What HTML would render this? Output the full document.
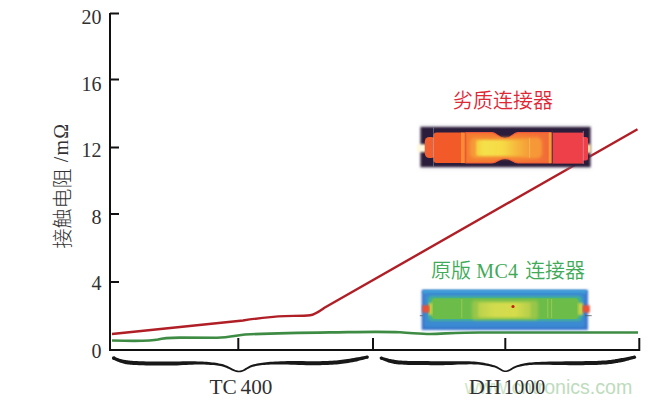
<!DOCTYPE html>
<html>
<head>
<meta charset="utf-8">
<style>
html,body{margin:0;padding:0;background:#fff;}
body{width:650px;height:402px;overflow:hidden;position:relative;}
svg{position:absolute;left:0;top:0;}
.num{font-family:"Liberation Serif",serif;font-size:20px;fill:#303030;}
</style>
</head>
<body>
<svg width="650" height="402" viewBox="0 0 650 402">
<defs>
  <linearGradient id="wm" gradientUnits="userSpaceOnUse" x1="466" y1="0" x2="630" y2="0">
    <stop offset="0" stop-color="#cfe6cb"/>
    <stop offset="0.45" stop-color="#c8e2c6"/>
    <stop offset="0.5" stop-color="#bedcbe"/>
    <stop offset="1" stop-color="#bcdbbc"/>
  </linearGradient>
  <filter id="soft" x="-5%" y="-10%" width="110%" height="120%"><feGaussianBlur stdDeviation="0.6"/></filter>
  <filter id="blur1" x="-5%" y="-20%" width="110%" height="140%"><feGaussianBlur stdDeviation="0.8"/></filter>
  <filter id="blur2" x="-5%" y="-20%" width="110%" height="140%"><feGaussianBlur stdDeviation="1.4"/></filter>
  <linearGradient id="midbody" x1="0" y1="0" x2="1" y2="0">
    <stop offset="0" stop-color="#f47c30"/>
    <stop offset="0.55" stop-color="#f47a32"/>
    <stop offset="1" stop-color="#f26a38"/>
  </linearGradient>
  <linearGradient id="hotlin" x1="0" y1="0" x2="1" y2="0">
    <stop offset="0" stop-color="#f6cc3c"/>
    <stop offset="0.15" stop-color="#f4e24a"/>
    <stop offset="0.5" stop-color="#f6da44"/>
    <stop offset="0.78" stop-color="#f6b43c"/>
    <stop offset="1" stop-color="#f49a36"/>
  </linearGradient>
  <linearGradient id="glin" x1="0" y1="0" x2="1" y2="0">
    <stop offset="0" stop-color="#b8d24c"/>
    <stop offset="0.3" stop-color="#d2dc4e"/>
    <stop offset="0.7" stop-color="#d6dd4c"/>
    <stop offset="1" stop-color="#b2ce4c"/>
  </linearGradient>
</defs>

<!-- axes -->
<g stroke="#111" stroke-width="2" fill="none">
  <line x1="110" y1="13" x2="110" y2="351"/>
  <line x1="109" y1="350" x2="640" y2="350"/>
  <line x1="110" y1="13.5" x2="119" y2="13.5"/>
  <line x1="110" y1="79.5" x2="119" y2="79.5"/>
  <line x1="110" y1="147.5" x2="119" y2="147.5"/>
  <line x1="110" y1="214" x2="119" y2="214"/>
  <line x1="110" y1="282" x2="119" y2="282"/>
  <line x1="238.3" y1="338" x2="238.3" y2="350"/>
  <line x1="373" y1="338" x2="373" y2="350"/>
  <line x1="505.3" y1="338" x2="505.3" y2="350"/>
  <line x1="639.3" y1="338" x2="639.3" y2="351"/>
</g>

<!-- y tick labels -->
<g class="num" text-anchor="end">
  <text x="101.5" y="24">20</text>
  <text x="101.5" y="90.5">16</text>
  <text x="101.5" y="157">12</text>
  <text x="101.5" y="223.5">8</text>
  <text x="101.5" y="290">4</text>
  <text x="101.5" y="357.5">0</text>
</g>

<!-- y axis label -->
<text transform="translate(69.5,248.5) rotate(-90)" fill="#333"><tspan font-size="20" font-weight="300" font-family="'Liberation Sans','Noto Sans CJK SC',sans-serif">接触电阻</tspan><tspan font-size="20" dy="-2" letter-spacing="1.2" font-family="'Liberation Serif',serif"> /mΩ</tspan></text>

<!-- red curve -->
<path d="M112,334 L243,320.5 C258,318.2 270,316.6 285,316.1 C295,315.8 304,315.9 310,315.2 C315,314.6 319,311.5 324,308 L637.5,129.3" fill="none" stroke="#b01e26" stroke-width="2.4" stroke-linejoin="round"/>
<!-- green curve -->
<path d="M112,340.5 C130,341 150,341.5 158,339.5 C163,338 168,337.7 180,337.6 L217,337.7 C228,337.5 236,335.5 245,334.5 C270,333.4 300,332.8 330,332.4 C360,332 380,331.3 400,332.3 C415,333.2 422,334 430,334 C445,333.6 460,332.5 480,332.5 L638,332.5" fill="none" stroke="#3e8c44" stroke-width="2.6"/>

<!-- red thermal image -->
<g filter="url(#soft)">
  <rect x="420" y="125.5" width="171" height="43" fill="#b8b4bc" opacity="0.5" filter="url(#blur2)"/>
  <rect x="420.6" y="127" width="169.8" height="40" fill="#2a1c3a" filter="url(#blur1)"/>
  <rect x="417" y="144.2" width="9" height="8" fill="#fffae0" filter="url(#blur1)"/>
  <rect x="586.5" y="144.4" width="4.5" height="8.5" fill="#ffe8b0" filter="url(#blur1)"/>
  <rect x="424.8" y="137" width="11" height="21" rx="4.5" fill="#f06030"/>
  <rect x="433.5" y="132.6" width="33" height="30.5" rx="3" fill="#f25a2c"/>
  <line x1="433.5" y1="127.5" x2="433.5" y2="166.5" stroke="#a0d8f0" stroke-width="0.9" opacity="0.4"/>
  <rect x="461" y="132.6" width="4" height="30.5" fill="#f88a34"/>
  <line x1="465.3" y1="132.6" x2="465.3" y2="163" stroke="#c84828" stroke-width="0.8"/>
  <path d="M465.8,132.6 H492 C497,132.6 499,138.6 505,138.6 C511,138.6 513,132.6 518,132.6 H551 V163 H518 C513,163 511,158.4 505,158.4 C499,158.4 497,163 492,163 H465.8 Z" fill="url(#midbody)" stroke="#f0583a" stroke-width="1.2"/>
  <rect x="470" y="137.5" width="72" height="21" rx="5" fill="#f69838" filter="url(#blur2)"/>
  <rect x="476" y="140" width="54" height="16" rx="2" fill="url(#hotlin)" filter="url(#blur1)"/>
  <line x1="529.6" y1="138" x2="529.6" y2="158" stroke="#fcc060" stroke-width="1" opacity="0.7"/>
  <rect x="548.7" y="132.6" width="3.8" height="30.5" fill="#f89838"/>
  <rect x="552.3" y="132.6" width="31" height="31" fill="#ee4048"/>
  <line x1="552.2" y1="130" x2="552.2" y2="165" stroke="#402848" stroke-width="1.2" opacity="0.8"/>
  <rect x="581" y="137" width="7" height="23.6" rx="2" fill="#ee4048"/>
  <line x1="583.3" y1="131" x2="583.3" y2="164" stroke="#e0a0b8" stroke-width="0.8" opacity="0.7"/>
</g>

<!-- green thermal image -->
<g filter="url(#soft)">
  <rect x="421.7" y="289.8" width="166.2" height="40.2" fill="#3a74cc" filter="url(#blur1)"/>
  <rect x="423" y="290" width="163" height="4" fill="#3ca2d8" filter="url(#blur1)"/>
  <rect x="424" y="293" width="161" height="34.5" rx="3" fill="#3a8ad2" filter="url(#blur1)"/>
  <rect x="428" y="296" width="154" height="25" rx="4" fill="#40b098" filter="url(#blur1)"/>
  <rect x="431.4" y="298.2" width="147.4" height="20.8" rx="4" fill="#6cbc48"/>
  <rect x="472" y="300.5" width="66" height="19" rx="3" fill="#98c648" filter="url(#blur2)"/>
  <rect x="478" y="302.5" width="53" height="15" rx="2" fill="url(#glin)" filter="url(#blur1)"/>
  <line x1="461.8" y1="299" x2="461.8" y2="318" stroke="#a8d060" stroke-width="1" opacity="0.7"/>
  <line x1="547.8" y1="299" x2="547.8" y2="318" stroke="#a8d060" stroke-width="1" opacity="0.7"/>
  <line x1="551.6" y1="299" x2="551.6" y2="318" stroke="#a8d060" stroke-width="1" opacity="0.7"/>
  <rect x="578" y="303" width="5" height="12" fill="#c8d040" filter="url(#blur1)"/>
  <rect x="428.5" y="303" width="4" height="12" fill="#c8d040" filter="url(#blur1)"/>
  <rect x="422.3" y="305.3" width="7.2" height="7.2" fill="#f05030" filter="url(#blur1)"/>
  <rect x="582.7" y="305.3" width="7.1" height="7.2" fill="#f05030" filter="url(#blur1)"/>
  <line x1="419.8" y1="315.7" x2="423" y2="315.7" stroke="#555" stroke-width="0.8"/>
  <line x1="585" y1="315.7" x2="591.7" y2="315.7" stroke="#555" stroke-width="0.8"/>
  <circle cx="513" cy="306.5" r="1.6" fill="#c02010"/>
</g>

<!-- labels -->
<text x="453" y="108" font-family="'Liberation Sans','Noto Sans CJK SC',sans-serif" font-size="20" fill="#de2836" font-weight="350">劣质连接器</text>
<text x="431" y="278" font-size="20" fill="#40aa58"><tspan font-weight="350" font-family="'Liberation Sans','Noto Sans CJK SC',sans-serif">原版</tspan><tspan font-family="'Liberation Serif',serif" font-size="20" letter-spacing="0.3"> MC4 </tspan><tspan dx="1.5" font-weight="350" font-family="'Liberation Sans','Noto Sans CJK SC',sans-serif">连接器</tspan></text>

<!-- braces -->
<g fill="#181818" stroke="none">
  <path d="M112.9,359.4 L113.3,359.6 L113.7,359.8 L114.3,360.0 L114.9,360.4 L115.6,360.7 L116.3,361.0 L117.1,361.4 L117.9,361.8 L118.8,362.1 L119.7,362.5 L120.6,362.8 L121.6,363.1 L122.5,363.3 L123.3,363.6 L124.1,363.8 L125.0,364.0 L125.9,364.2 L126.9,364.3 L127.9,364.4 L129.0,364.6 L130.3,364.7 L131.6,364.8 L133.2,364.9 L134.9,365.0 L136.8,365.1 L138.9,365.2 L141.1,365.3 L143.5,365.3 L146.0,365.4 L148.6,365.4 L151.3,365.5 L154.0,365.5 L156.7,365.6 L159.5,365.6 L162.3,365.6 L165.0,365.6 L167.8,365.6 L170.7,365.5 L173.8,365.5 L176.8,365.4 L179.9,365.2 L183.1,365.1 L186.1,364.9 L189.1,364.8 L192.1,364.7 L194.9,364.6 L197.5,364.5 L200.0,364.5 L202.3,364.6 L204.4,364.6 L206.5,364.7 L208.4,364.8 L210.2,364.9 L212.0,365.0 L213.7,365.1 L215.4,365.3 L217.0,365.5 L218.6,365.7 L220.2,366.0 L221.7,366.3 L223.3,366.7 L224.8,367.2 L226.2,367.7 L227.7,368.4 L229.1,369.0 L230.5,369.7 L231.9,370.4 L233.3,371.0 L234.7,371.5 L236.1,371.9 L237.6,372.2 L239.0,372.3 L240.4,372.2 L241.7,372.0 L243.0,371.5 L244.2,371.0 L245.4,370.4 L246.5,369.7 L247.7,369.1 L248.9,368.4 L250.1,367.8 L251.4,367.2 L252.8,366.7 L254.3,366.4 L255.8,366.0 L257.5,365.8 L259.1,365.5 L260.8,365.3 L262.6,365.1 L264.4,365.0 L266.4,364.8 L268.4,364.7 L270.6,364.6 L272.9,364.5 L275.4,364.5 L278.0,364.4 L280.9,364.4 L284.1,364.5 L287.6,364.5 L291.2,364.7 L295.0,364.8 L298.8,364.9 L302.7,365.1 L306.5,365.2 L310.2,365.2 L313.7,365.2 L317.0,365.2 L320.0,365.2 L322.8,365.1 L325.4,365.0 L327.8,364.9 L330.1,364.8 L332.3,364.7 L334.4,364.5 L336.5,364.4 L338.5,364.2 L340.4,364.0 L342.3,363.8 L344.3,363.5 L346.3,363.3 L348.3,363.0 L350.4,362.6 L352.6,362.3 L354.7,361.8 L356.8,361.4 L358.8,360.8 L360.7,360.3 L362.5,359.9 L364.1,359.4 L365.6,359.0 L366.8,358.7 L367.8,358.5 L367.2,355.5 L366.1,355.7 L364.9,355.9 L363.4,356.2 L361.7,356.5 L359.9,356.9 L358.0,357.2 L356.0,357.6 L353.9,357.9 L351.8,358.3 L349.8,358.7 L347.7,359.0 L345.7,359.3 L343.8,359.6 L341.9,359.8 L340.0,360.0 L338.1,360.2 L336.1,360.4 L334.1,360.5 L332.1,360.7 L329.9,360.8 L327.6,360.9 L325.2,361.0 L322.7,361.1 L320.0,361.2 L317.0,361.2 L313.7,361.2 L310.2,361.2 L306.6,361.2 L302.8,361.1 L298.9,361.1 L295.1,361.1 L291.3,361.1 L287.6,361.1 L284.1,361.2 L280.9,361.3 L278.0,361.4 L275.3,361.5 L272.8,361.7 L270.4,361.8 L268.2,362.0 L266.2,362.2 L264.2,362.4 L262.3,362.7 L260.5,362.9 L258.8,363.2 L257.1,363.5 L255.4,363.9 L253.7,364.2 L252.1,364.7 L250.6,365.3 L249.2,366.0 L247.9,366.7 L246.7,367.4 L245.6,368.1 L244.5,368.8 L243.4,369.4 L242.4,369.9 L241.3,370.3 L240.2,370.6 L239.0,370.7 L237.8,370.6 L236.6,370.3 L235.3,369.9 L234.0,369.3 L232.7,368.7 L231.4,368.0 L230.0,367.3 L228.5,366.6 L227.1,365.8 L225.5,365.2 L223.9,364.6 L222.3,364.1 L220.6,363.7 L219.0,363.4 L217.3,363.1 L215.7,362.8 L214.0,362.6 L212.3,362.4 L210.5,362.2 L208.6,362.0 L206.6,361.8 L204.5,361.7 L202.4,361.6 L200.0,361.5 L197.5,361.4 L194.9,361.3 L192.0,361.3 L189.1,361.3 L186.0,361.3 L182.9,361.3 L179.8,361.4 L176.7,361.4 L173.7,361.5 L170.7,361.5 L167.8,361.6 L165.0,361.6 L162.3,361.6 L159.5,361.6 L156.8,361.6 L154.0,361.5 L151.3,361.5 L148.7,361.4 L146.1,361.4 L143.6,361.3 L141.3,361.3 L139.0,361.2 L137.0,361.1 L135.1,361.0 L133.4,360.9 L131.9,360.8 L130.6,360.7 L129.4,360.6 L128.4,360.5 L127.4,360.3 L126.6,360.2 L125.7,360.1 L124.9,360.0 L124.1,359.8 L123.3,359.7 L122.4,359.5 L121.6,359.3 L120.8,359.1 L119.9,358.9 L119.1,358.6 L118.3,358.3 L117.6,358.0 L116.9,357.8 L116.2,357.5 L115.6,357.2 L115.0,357.0 L114.5,356.8 L114.1,356.6Z"/>
  <path d="M380.5,359.4 L381.0,359.6 L381.6,359.9 L382.4,360.1 L383.2,360.5 L384.1,360.8 L385.1,361.2 L386.1,361.6 L387.2,362.0 L388.3,362.4 L389.4,362.7 L390.5,363.0 L391.6,363.3 L392.6,363.5 L393.6,363.7 L394.5,363.9 L395.4,364.0 L396.4,364.2 L397.3,364.3 L398.4,364.4 L399.6,364.5 L400.9,364.6 L402.4,364.6 L404.0,364.7 L405.9,364.8 L408.1,364.9 L410.5,364.9 L413.1,365.0 L415.8,365.0 L418.7,365.1 L421.7,365.1 L424.8,365.1 L427.9,365.1 L431.0,365.2 L434.1,365.2 L437.1,365.2 L440.0,365.2 L442.9,365.2 L445.9,365.1 L448.9,365.0 L451.9,364.9 L454.9,364.8 L457.9,364.6 L460.9,364.5 L463.7,364.4 L466.5,364.4 L469.1,364.3 L471.6,364.3 L473.9,364.4 L476.1,364.5 L478.1,364.6 L480.0,364.8 L481.8,365.0 L483.6,365.2 L485.2,365.5 L486.7,365.8 L488.2,366.0 L489.7,366.3 L491.1,366.7 L492.4,367.0 L493.7,367.3 L494.9,367.6 L496.0,368.0 L497.0,368.5 L498.0,369.0 L498.9,369.6 L499.7,370.1 L500.6,370.6 L501.5,371.1 L502.4,371.5 L503.4,371.8 L504.4,372.0 L505.5,372.1 L506.6,372.0 L507.7,371.8 L508.7,371.4 L509.8,371.0 L510.8,370.5 L511.8,369.9 L512.8,369.3 L513.8,368.8 L514.9,368.2 L516.0,367.8 L517.1,367.3 L518.3,367.0 L519.5,366.7 L520.6,366.4 L521.8,366.2 L522.9,365.9 L524.0,365.7 L525.2,365.5 L526.5,365.4 L528.0,365.2 L529.7,365.1 L531.5,364.9 L533.6,364.8 L536.1,364.8 L538.9,364.7 L542.1,364.7 L545.6,364.7 L549.4,364.8 L553.4,364.9 L557.5,365.0 L561.6,365.0 L565.7,365.1 L569.7,365.2 L573.4,365.2 L576.9,365.2 L580.0,365.2 L582.9,365.2 L585.5,365.1 L588.0,365.1 L590.4,365.0 L592.7,365.0 L594.8,364.9 L596.9,364.9 L598.8,364.8 L600.7,364.7 L602.6,364.6 L604.4,364.5 L606.2,364.4 L607.9,364.2 L609.5,364.1 L611.0,363.9 L612.5,363.7 L613.8,363.5 L615.2,363.3 L616.4,363.1 L617.6,362.9 L618.8,362.6 L620.0,362.4 L621.2,362.2 L622.4,362.0 L623.6,361.7 L624.8,361.4 L626.1,361.0 L627.3,360.7 L628.6,360.4 L629.7,360.1 L630.9,359.7 L631.9,359.4 L632.9,359.2 L633.7,358.9 L634.5,358.7 L635.0,358.6 L634.4,355.6 L633.7,355.8 L633.0,355.9 L632.1,356.1 L631.1,356.3 L630.1,356.5 L629.0,356.7 L627.8,357.0 L626.5,357.2 L625.3,357.4 L624.1,357.7 L622.8,357.9 L621.6,358.0 L620.4,358.3 L619.3,358.5 L618.1,358.7 L616.9,358.9 L615.7,359.1 L614.5,359.4 L613.2,359.6 L611.9,359.8 L610.5,359.9 L609.1,360.1 L607.5,360.3 L605.8,360.4 L604.1,360.5 L602.3,360.6 L600.5,360.7 L598.7,360.8 L596.7,360.9 L594.7,360.9 L592.6,361.0 L590.3,361.0 L588.0,361.1 L585.5,361.1 L582.8,361.2 L580.0,361.2 L576.9,361.2 L573.4,361.2 L569.7,361.2 L565.7,361.3 L561.6,361.4 L557.5,361.4 L553.4,361.5 L549.4,361.6 L545.6,361.7 L542.0,361.8 L538.8,361.9 L535.9,362.0 L533.5,362.2 L531.3,362.4 L529.4,362.6 L527.7,362.8 L526.2,363.0 L524.8,363.2 L523.6,363.5 L522.4,363.8 L521.2,364.0 L520.1,364.3 L519.0,364.7 L517.7,365.0 L516.4,365.4 L515.2,365.9 L514.0,366.5 L512.9,367.1 L511.9,367.7 L510.9,368.3 L509.9,368.9 L509.0,369.4 L508.1,369.8 L507.2,370.2 L506.4,370.4 L505.5,370.5 L504.6,370.4 L503.9,370.2 L503.1,369.9 L502.3,369.6 L501.5,369.1 L500.7,368.6 L499.8,368.0 L498.9,367.4 L497.9,366.8 L496.8,366.3 L495.6,365.8 L494.3,365.3 L492.9,364.9 L491.6,364.6 L490.2,364.2 L488.7,363.8 L487.2,363.5 L485.6,363.2 L484.0,362.8 L482.2,362.5 L480.3,362.3 L478.4,362.0 L476.3,361.8 L474.1,361.6 L471.7,361.4 L469.2,361.3 L466.5,361.3 L463.7,361.2 L460.8,361.2 L457.8,361.2 L454.8,361.2 L451.8,361.2 L448.8,361.2 L445.8,361.2 L442.9,361.2 L440.0,361.2 L437.1,361.2 L434.1,361.2 L431.0,361.2 L427.9,361.1 L424.8,361.1 L421.8,361.1 L418.8,361.1 L415.9,361.0 L413.1,361.0 L410.6,360.9 L408.2,360.9 L406.1,360.8 L404.2,360.7 L402.6,360.7 L401.1,360.6 L399.9,360.5 L398.8,360.4 L397.8,360.3 L396.9,360.2 L396.0,360.1 L395.1,359.9 L394.3,359.8 L393.4,359.6 L392.4,359.5 L391.4,359.3 L390.3,359.1 L389.3,358.9 L388.2,358.6 L387.2,358.3 L386.2,358.0 L385.2,357.7 L384.3,357.4 L383.4,357.2 L382.7,356.9 L382.0,356.7 L381.5,356.6Z"/>
  <circle cx="113.8" cy="358.1" r="1.9"/>
  <circle cx="367.3" cy="357.1" r="1.6"/>
  <circle cx="381.3" cy="358.1" r="1.7"/>
  <circle cx="634.5" cy="357.2" r="1.6"/>
</g>

<!-- x labels -->
<text class="num" y="394"><tspan x="209.5" textLength="27.3" lengthAdjust="spacingAndGlyphs">TC</tspan> <tspan x="240.6" textLength="31.8" lengthAdjust="spacingAndGlyphs">400</tspan></text>
<text x="548.5" y="394" font-family="'Liberation Sans',sans-serif" font-size="19.6" fill="url(#wm)" text-anchor="middle">www.cntronics.com</text>
<text class="num" y="394"><tspan x="468.8" textLength="32.3" lengthAdjust="spacingAndGlyphs">DH</tspan> <tspan x="503.7" letter-spacing="0.5">1000</tspan></text>
</svg>
</body>
</html>
